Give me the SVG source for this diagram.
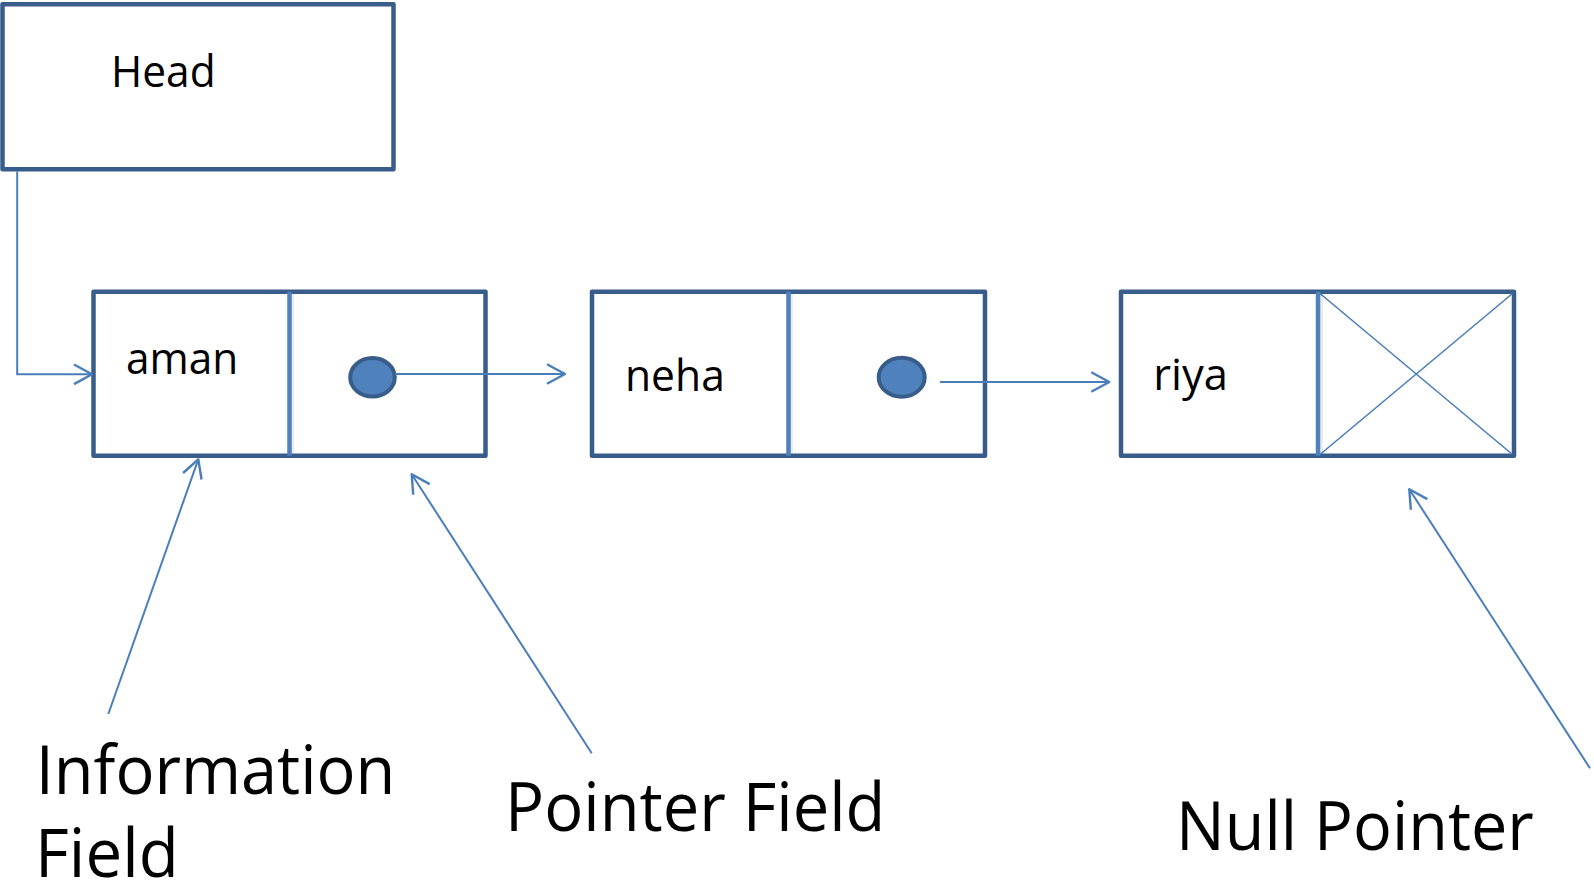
<svg xmlns="http://www.w3.org/2000/svg" width="1594" height="890" viewBox="0 0 1594 890">
  <style>
    .box { fill: #ffffff; stroke: #385d8a; stroke-width: 4.5; stroke-linejoin: round; }
    .divider { stroke: #4f81bd; stroke-width: 4.5; }
    .shade { stroke: #000000; stroke-opacity: 0.08; stroke-width: 3; }
    .dot { fill: #4f81bd; stroke: #385d8a; stroke-width: 4; }
    .cross { stroke: #4a7ebb; stroke-width: 1.6; }
    .link { fill: none; stroke: #4a7ebb; stroke-width: 2; marker-end: url(#open); }
    .label { font-family: "Open Sans", "Noto Sans", "Liberation Sans", sans-serif; fill: #000000; }
    .small { font-size: 43px; }
    .big { font-size: 67px; }
  </style>
  <defs>
    <marker id="open" viewBox="-21 -12 24 24" refX="0" refY="0" markerWidth="24" markerHeight="24" markerUnits="userSpaceOnUse" orient="auto">
      <path d="M-18,-9.8 L0,0 L-18,9.8" fill="none" stroke="#4a7ebb" stroke-width="2.4" stroke-linejoin="round"/>
    </marker>
  </defs>

  <rect width="1594" height="890" fill="#ffffff"/>

  <!-- head pointer box -->
  <g id="head">
    <rect class="box" x="2.5" y="4.2" width="391" height="165"/>
    <text class="label small" x="111" y="87.3" textLength="104.6" lengthAdjust="spacingAndGlyphs">Head</text>
  </g>

  <!-- first node -->
  <g id="node-aman">
    <rect class="box" x="93.5" y="291.7" width="392" height="164"/>
    <line class="shade" x1="292.5" y1="294" x2="292.5" y2="453"/>
    <line class="divider" x1="289.5" y1="291.7" x2="289.5" y2="455.7"/>
    <text class="label small" x="126" y="374" textLength="112.3" lengthAdjust="spacingAndGlyphs">aman</text>
    <ellipse class="dot" cx="372.5" cy="377.3" rx="22.3" ry="19.3"/>
  </g>

  <!-- second node -->
  <g id="node-neha">
    <rect class="box" x="592" y="291.7" width="393" height="164"/>
    <line class="shade" x1="791.5" y1="294" x2="791.5" y2="453"/>
    <line class="divider" x1="788.5" y1="291.7" x2="788.5" y2="455.7"/>
    <text class="label small" x="625" y="390.7" textLength="99.8" lengthAdjust="spacingAndGlyphs">neha</text>
    <ellipse class="dot" cx="901.7" cy="377.3" rx="23" ry="19.5"/>
  </g>

  <!-- last node with null pointer -->
  <g id="node-riya">
    <rect class="box" x="1121" y="291.7" width="393" height="164"/>
    <line class="cross" x1="1320" y1="293.5" x2="1512.5" y2="454.5"/>
    <line class="cross" x1="1320" y1="454.5" x2="1512.5" y2="293.5"/>
    <line class="shade" x1="1321.5" y1="294" x2="1321.5" y2="453"/>
    <line class="divider" x1="1318" y1="291.7" x2="1318" y2="455.7"/>
    <text class="label small" x="1153.3" y="390" textLength="74.7" lengthAdjust="spacingAndGlyphs">riya</text>
  </g>

  <!-- annotation captions -->
  <g id="caption-info">
    <text class="label big" x="35.7" y="794" textLength="359.7" lengthAdjust="spacingAndGlyphs">Information</text>
    <text class="label big" x="35.1" y="876.7" textLength="143.6" lengthAdjust="spacingAndGlyphs">Field</text>
  </g>
  <g id="caption-pointer">
    <text class="label big" x="505.1" y="831" textLength="380.3" lengthAdjust="spacingAndGlyphs">Pointer Field</text>
  </g>
  <g id="caption-null">
    <text class="label big" x="1176.1" y="850" textLength="357.7" lengthAdjust="spacingAndGlyphs">Null Pointer</text>
  </g>

  <!-- connectors -->
  <g id="connectors">
    <polyline class="link" points="17.2,171.5 17.2,374.3 92,374.3"/>
    <line class="link" x1="395" y1="374" x2="565" y2="374"/>
    <line class="link" x1="940" y1="382" x2="1109.3" y2="382"/>
    <line class="link" x1="108.3" y1="714" x2="198.3" y2="459.3"/>
    <line class="link" x1="591.7" y1="753.3" x2="411.7" y2="474.3"/>
    <line class="link" x1="1590" y1="768.3" x2="1409.3" y2="489.3"/>
  </g>
</svg>
